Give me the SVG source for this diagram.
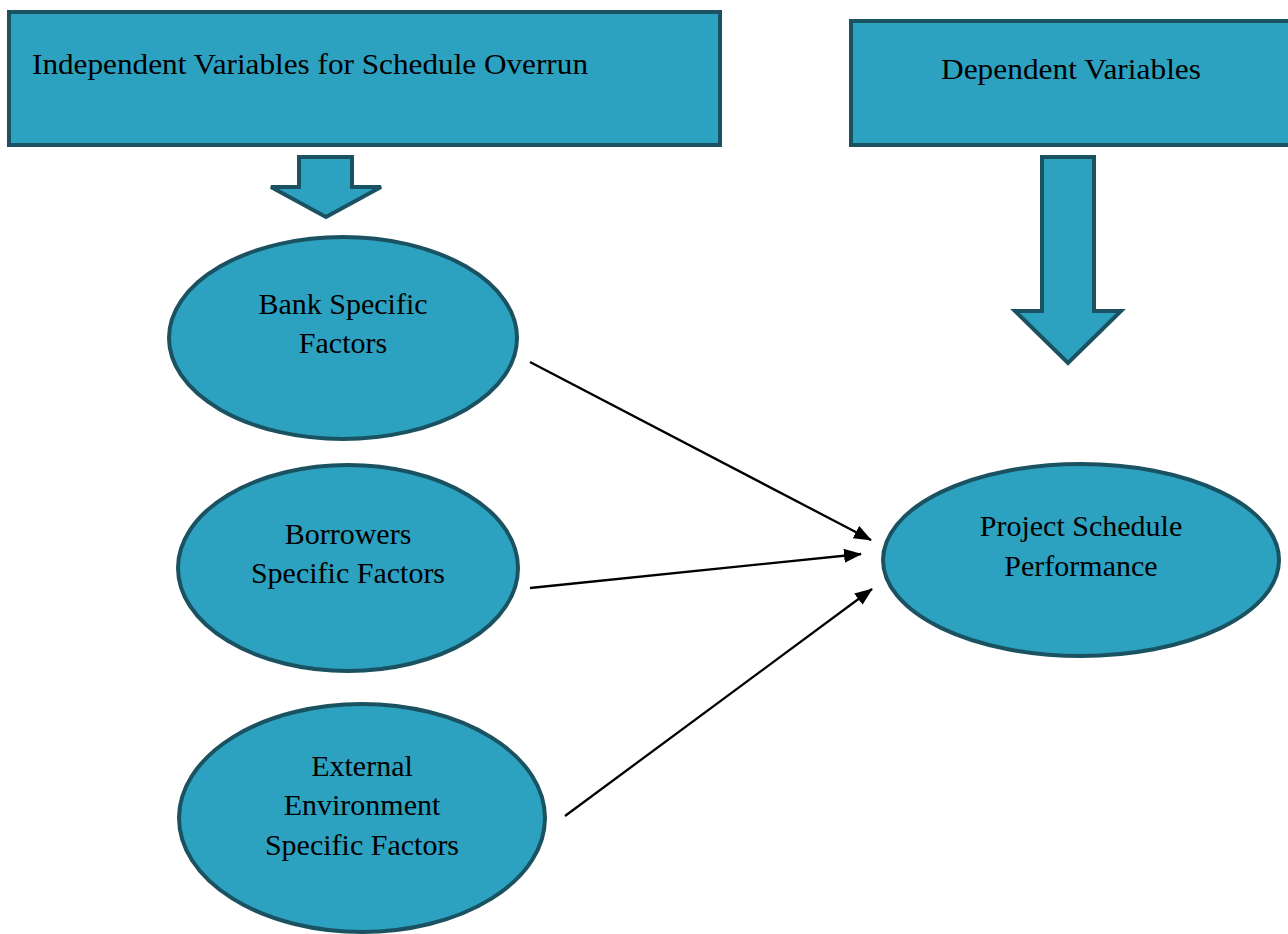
<svg xmlns="http://www.w3.org/2000/svg" width="1288" height="934" viewBox="0 0 1288 934">
<style>
.s{fill:#2ca2c0;stroke:#1a5261;stroke-width:4}
.t{font-family:"Liberation Serif","DejaVu Serif",serif;font-size:30px;fill:#000}
.c{text-anchor:middle}
.l{stroke:#000;stroke-width:2.3;fill:none;marker-end:url(#ah)}
</style>
<defs>
<marker id="ah" viewBox="0 0 18 14" refX="17" refY="7" markerWidth="18" markerHeight="14" markerUnits="userSpaceOnUse" orient="auto">
<path d="M0,0 L18,7 L0,14 z" fill="#000"/>
</marker>
</defs>
<rect width="1288" height="934" fill="#fff"/>
<g id="box-independent">
<rect class="s" x="9" y="12" width="711" height="133"/>
<text class="t" x="32" y="74" textLength="556" lengthAdjust="spacingAndGlyphs">Independent Variables for Schedule Overrun</text>
</g>
<g id="box-dependent">
<rect class="s" x="851" y="21" width="445" height="124"/>
<text class="t" x="941" y="79" textLength="260" lengthAdjust="spacingAndGlyphs">Dependent Variables</text>
</g>
<g id="arrow-small">
<path class="s" d="M299,157 H352 V187 H381 L326,217 L271,187 H299 Z"/>
</g>
<g id="arrow-big">
<path class="s" d="M1042,157 H1094 V311 H1121 L1068,363 L1015,311 H1042 Z"/>
</g>
<g id="node-bank">
<ellipse class="s" cx="343" cy="338" rx="174" ry="101"/>
<text class="t c" x="343" y="314">Bank Specific</text>
<text class="t c" x="343" y="353">Factors</text>
</g>
<g id="node-borrowers">
<ellipse class="s" cx="348" cy="568" rx="170" ry="103"/>
<text class="t c" x="348" y="544">Borrowers</text>
<text class="t c" x="348" y="583">Specific Factors</text>
</g>
<g id="node-external">
<ellipse class="s" cx="362" cy="818" rx="183" ry="114"/>
<text class="t c" x="362" y="776">External</text>
<text class="t c" x="362" y="815">Environment</text>
<text class="t c" x="362" y="855">Specific Factors</text>
</g>
<g id="node-project">
<ellipse class="s" cx="1081" cy="560" rx="198" ry="96"/>
<text class="t c" x="1081" y="536">Project Schedule</text>
<text class="t c" x="1081" y="576">Performance</text>
</g>
<g id="connectors">
<line class="l" x1="530" y1="362" x2="871" y2="540"/>
<line class="l" x1="530" y1="588" x2="861" y2="554"/>
<line class="l" x1="565" y1="816" x2="872" y2="589"/>
</g>
</svg>
